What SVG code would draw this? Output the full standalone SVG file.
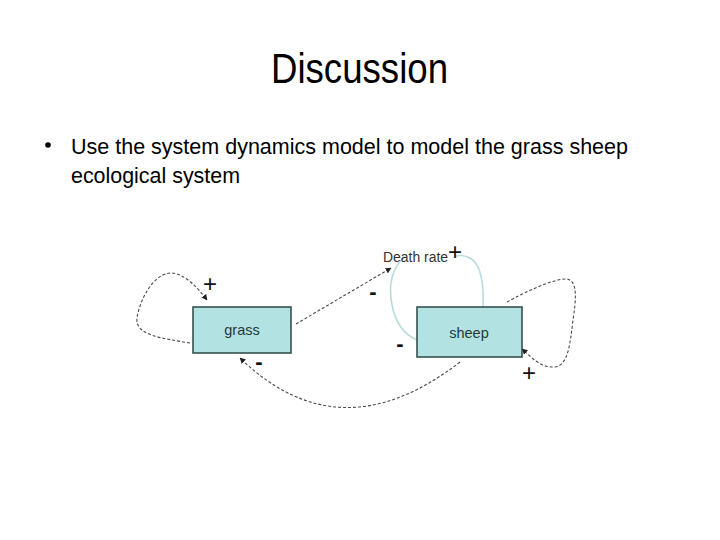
<svg xmlns="http://www.w3.org/2000/svg" width="720" height="540" viewBox="0 0 720 540">
<defs>
<marker id="arr" viewBox="0 0 10 10" refX="9" refY="5" markerWidth="6" markerHeight="6" orient="auto" markerUnits="userSpaceOnUse">
<path d="M0,0 L10,5 L0,10 z" fill="#222"/>
</marker>
<style>
.title{font-family:"Liberation Sans",Arial,sans-serif;font-size:42px;fill:#000}
.body{font-family:"Liberation Sans",Arial,sans-serif;font-size:22px;fill:#000}
.box{fill:#b3e2e2;stroke:#2c4646;stroke-width:1.5}
.lbl{font-family:"Liberation Sans",Arial,sans-serif;font-size:14.5px;fill:#1f3a3a;text-anchor:middle}
.dash{fill:none;stroke:#4a4a4a;stroke-width:1.1;stroke-dasharray:3 2}
.blue{fill:none;stroke:#b8dcdc;stroke-width:1.6}
.sign{font-family:"Liberation Sans",Arial,sans-serif;font-size:24px;fill:#111;text-anchor:middle}
.minus{font-family:"Liberation Sans",Arial,sans-serif;font-size:22px;font-weight:bold;fill:#111;text-anchor:middle}
</style>
</defs>
<rect width="720" height="540" fill="#fff"/>
<text class="title" x="271" y="83" textLength="177" lengthAdjust="spacingAndGlyphs">Discussion</text>
<circle cx="48" cy="145" r="2.8" fill="#000"/>
<text class="body" x="71" y="154" textLength="557" lengthAdjust="spacingAndGlyphs">Use the system dynamics model to model the grass sheep</text>
<text class="body" x="71" y="183" textLength="169" lengthAdjust="spacingAndGlyphs">ecological system</text>

<g id="connectors">
<path class="dash" d="M190,343 C160,338 135,335 137,318 C140,298 155,272 172,273 C185,274 198,288 207,300" marker-end="url(#arr)"/>
<path class="dash" d="M296,324 L391,268" marker-end="url(#arr)"/>
<path class="blue" d="M405,256 C392,268 388,285 392,305 C396,325 405,335 417,340"/>
<path class="blue" d="M483,307 C484,285 482,265 470,258 C465,255 460,255 455,256"/>
<path class="dash" d="M507,302 C525,292 555,278 567,279 C578,281 576,300 573,320 C570,345 568,365 555,367 C540,368 530,356 522,349" marker-end="url(#arr)"/>
<path class="dash" d="M460,362 Q340,455 240,358" marker-end="url(#arr)"/>
</g>

<g id="grass">
<rect class="box" x="193" y="307" width="98" height="46"/>
<text class="lbl" x="242" y="335">grass</text>
</g>
<g id="sheep">
<rect class="box" x="417" y="307" width="105" height="50"/>
<text class="lbl" x="469" y="338">sheep</text>
</g>
<g id="death-rate">
<text x="383" y="262" font-family="Liberation Sans, Arial, sans-serif" font-size="14" fill="#333" textLength="65" lengthAdjust="spacingAndGlyphs">Death rate</text>
</g>

<g id="signs">
<text class="sign" x="210" y="292">+</text>
<text class="sign" x="455" y="260">+</text>
<text class="sign" x="529" y="381">+</text>
<text class="minus" x="373" y="299">-</text>
<text class="minus" x="400" y="351">-</text>
<text class="minus" x="259" y="369">-</text>
</g>
</svg>
